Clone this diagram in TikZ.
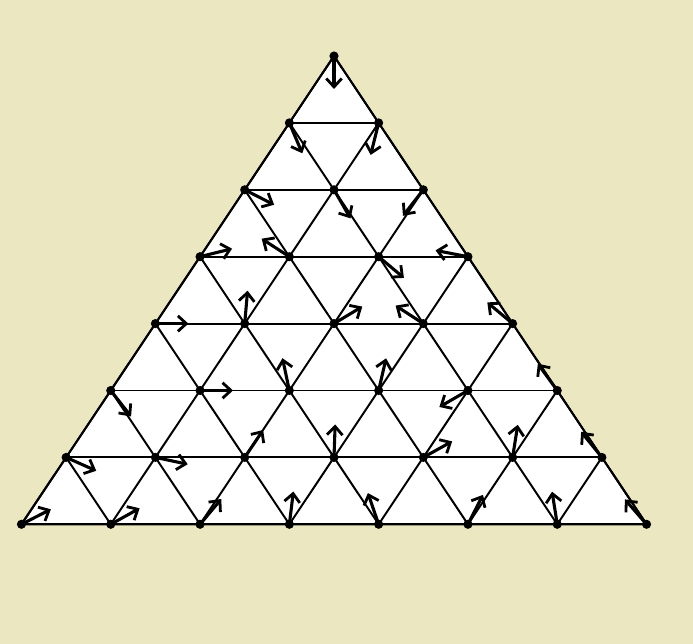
\documentclass[tikz,border=0pt]{standalone}
\usepackage{tikz}
\usetikzlibrary{arrows.meta}
\definecolor{paper}{RGB}{235,232,193}
\definecolor{darktext}{RGB}{0,0,0}

\begin{document}
\begin{tikzpicture}[x=0.025cm,y=0.025cm,
  mesh/.style={line width=1.4pt,draw=darktext},
  site/.style={circle,fill=darktext,inner sep=0pt,minimum size=6.5pt},
  vec/.style={-{Straight Barb[length=6pt,width=11pt,line width=2pt]},line width=2.2pt,draw=darktext}
]
\fill[paper] (0,0) rectangle (693,644);
\useasboundingbox (0,0) rectangle (693,644);

% lattice points, row r has r+1 sites
\foreach \r in {0,...,7}{
  \foreach \k in {0,...,\r}{
    \coordinate (p-\r-\k) at ({334+(\k-\r/2)*89.3},{588-\r*66.9});
  }
}

\fill[white] (p-0-0) -- (p-7-0) -- (p-7-7) -- cycle;

% three families of lines
\foreach \r in {1,...,7}{
  \draw[mesh] (p-\r-0) -- (p-\r-\r);
}
\foreach \k in {0,...,6}{
  \pgfmathtruncatemacro{\c}{7-\k}
  \draw[mesh] (p-\k-\k) -- (p-7-\k);
  \draw[mesh] (p-\k-0) -- (p-7-\c);
}
\draw[mesh] (p-0-0) -- (p-7-0) -- (p-7-7) -- cycle;

% spin at each site
\foreach \r/\k/\a in {0/0/-90,
  1/0/-67,1/1/-104,
  2/0/-27,2/1/-60,2/2/-128,
  3/0/14,3/1/147,3/2/-40,3/3/169,
  4/0/0,4/1/85,4/2/31,4/3/147,4/4/140,
  5/0/-52,5/1/0,5/2/102,5/3/77,5/4/-150,5/5/126,
  6/0/-24,6/1/-12,6/2/56,6/3/88,6/4/29,6/5/81,6/6/129,
  7/0/27,7/1/29,7/2/50,7/3/83,7/4/109,7/5/63,7/6/99,7/7/131}{
  \draw[vec] (p-\r-\k) -- ++(\a:33);
  \node[site] (s-\r-\k) at (p-\r-\k) {};
}
\end{tikzpicture}
\end{document}
